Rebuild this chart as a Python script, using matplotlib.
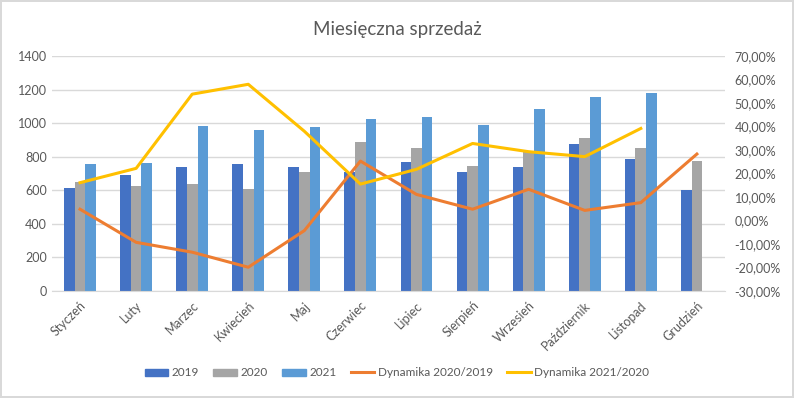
import numpy as np
import matplotlib.pyplot as plt
from matplotlib.ticker import FuncFormatter
from matplotlib.patches import Patch
from matplotlib.lines import Line2D

plt.rcParams['font.family'] = ['Lato', 'DejaVu Sans']

# dane
miesiace = ['Styczeń', 'Luty', 'Marzec', 'Kwiecień', 'Maj', 'Czerwiec',
            'Lipiec', 'Sierpień', 'Wrzesień', 'Październik', 'Listopad', 'Grudzień']
s2019 = [612, 689, 739, 755, 739, 707, 767, 707, 737, 874, 784, 600]
s2020 = [647, 626, 637, 606, 707, 886, 850, 743, 830, 910, 850, 773]
s2021 = [755, 761, 981, 959, 975, 1023, 1035, 987, 1082, 1158, 1178, np.nan]
dyn_20_19 = [4.8, -9.3, -13.5, -19.9, -4.3, 25.3, 11.1, 4.8, 13.3, 4.3, 7.6, 28.3]
dyn_21_20 = [16.1, 22.2, 53.8, 58.0, 38.0, 15.5, 21.8, 32.8, 29.3, 27.2, 39.2, np.nan]

c2019, c2020, c2021 = '#4472C4', '#A5A5A5', '#5B9BD5'
c_dyn1, c_dyn2 = '#ED7D31', '#FFC000'
txt = '#595959'

fig = plt.figure(figsize=(7.94, 3.98), dpi=100)
fig.patch.set_edgecolor('#D9D9D9')
fig.patch.set_linewidth(1.5)
ax = fig.add_axes([0.0655, 0.269, 0.8475, 0.590])

x = np.arange(len(miesiace))
w = 0.19
ax.bar(x - w, s2019, w, color=c2019, zorder=2)
ax.bar(x, s2020, w, color=c2020, zorder=2)
ax.bar(x + w, s2021, w, color=c2021, zorder=2)

ax.set_xlim(-0.5, len(miesiace) - 0.5)
ax.set_ylim(0, 1400)
ax.set_yticks(range(0, 1401, 200))
ax.set_xticks(x)
ax.set_xticklabels(miesiace, rotation=45, ha='right', rotation_mode='anchor')
ax.grid(axis='y', color='#D9D9D9', linewidth=1, zorder=0)
for s in ['top', 'right', 'left']:
    ax.spines[s].set_visible(False)
ax.spines['bottom'].set_color('#D9D9D9')
ax.tick_params(axis='both', length=0, colors=txt, labelsize=9)
ax.tick_params(axis='x', pad=6)

ax2 = ax.twinx()
ax2.plot(x, dyn_20_19, color=c_dyn1, linewidth=2.2, zorder=3)
ax2.plot(x, dyn_21_20, color=c_dyn2, linewidth=2.2, zorder=3)
ax2.set_ylim(-30, 70)
ax2.set_yticks(range(-30, 71, 10))
ax2.yaxis.set_major_formatter(FuncFormatter(lambda v, p: f'{v:.2f}%'.replace('.', ',')))
for s in ax2.spines.values():
    s.set_visible(False)
ax2.tick_params(axis='y', length=0, colors=txt, labelsize=9, pad=7)

fig.text(0.5, 0.925, 'Miesięczna sprzedaż', ha='center', va='center', fontsize=13.5, color=txt)

handles = [Patch(color=c2019), Patch(color=c2020), Patch(color=c2021),
           Line2D([], [], color=c_dyn1, linewidth=2.2),
           Line2D([], [], color=c_dyn2, linewidth=2.2)]
labels = ['2019', '2020', '2021', 'Dynamika 2020/2019', 'Dynamika 2021/2020']
fig.legend(handles, labels, loc='center', bbox_to_anchor=(0.5, 0.063), ncol=5,
           frameon=False, fontsize=8.5, labelcolor=txt, handlelength=2.0,
           handleheight=0.6, handletextpad=0.3, columnspacing=1.2)

fig.savefig('out.png', dpi=100)
